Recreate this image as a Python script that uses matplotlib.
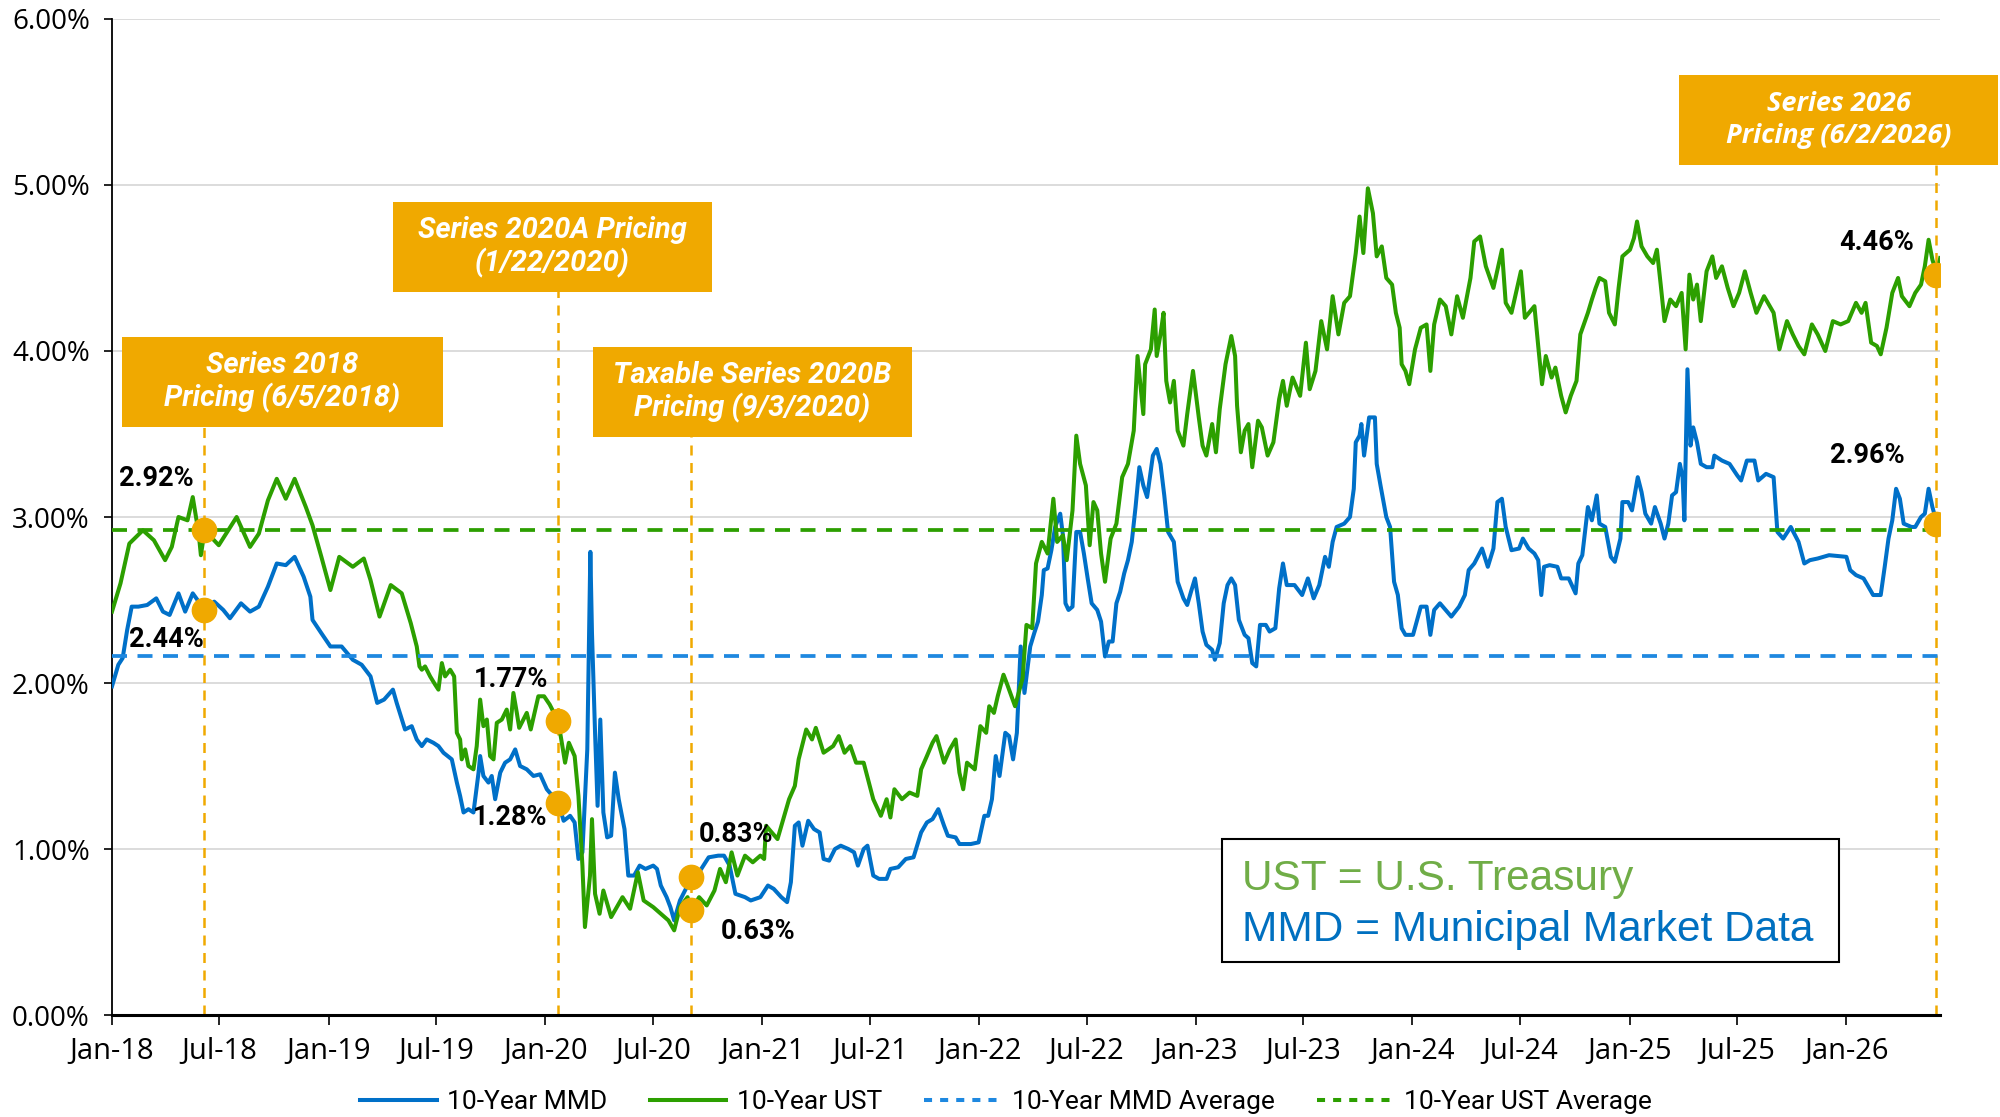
import numpy as np
import pandas as pd
import matplotlib
matplotlib.use("Agg")
import matplotlib.pyplot as plt
import matplotlib.dates as mdates
from matplotlib.patches import Rectangle
from matplotlib.lines import Line2D
from matplotlib.ticker import FuncFormatter, MultipleLocator

plt.rcParams["font.family"] = ["Roboto", "DejaVu Sans"]

# --- données (mois écoulés depuis janv. 2018, taux en %) ---
ust_months = [
    0.00, 0.47, 0.96, 1.71, 2.32, 2.94, 3.31, 3.68, 4.18, 4.47, 4.80, 4.92, 5.13, 5.91, 6.90, 7.64,
    8.13, 8.63, 9.12, 9.62, 10.11, 10.73, 11.10, 11.59, 12.09, 12.58, 13.33, 13.94, 14.31, 14.81,
    15.43, 16.04, 16.54, 16.87, 17.02, 17.15, 17.33, 17.61, 17.89, 18.07, 18.26, 18.44, 18.72,
    18.94, 19.09, 19.27, 19.36, 19.55, 19.73, 20.01, 20.19, 20.38, 20.56, 20.75, 20.93, 21.12,
    21.30, 21.58, 21.85, 22.04, 22.22, 22.41, 22.54, 22.96, 23.18, 23.60, 23.92, 24.23, 24.70,
    24.87, 25.08, 25.29, 25.61, 25.82, 26.04, 26.18, 26.46, 26.57, 26.74, 26.99, 27.20, 27.63,
    28.26, 28.68, 29.11, 29.43, 29.96, 30.38, 30.80, 31.12, 31.44, 31.86, 32.07, 32.50, 32.92,
    33.35, 33.66, 33.98, 34.30, 34.62, 35.04, 35.47, 35.89, 36.10, 36.21, 36.52, 36.84, 37.16,
    37.48, 37.80, 38.01, 38.43, 38.75, 38.96, 39.39, 39.92, 40.23, 40.55, 40.87, 41.19, 41.61,
    42.14, 42.56, 42.88, 43.09, 43.31, 43.73, 44.15, 44.58, 44.79, 45.11, 45.42, 45.64, 46.06,
    46.38, 46.70, 46.91, 47.12, 47.33, 47.76, 48.07, 48.39, 48.56, 48.82, 49.03, 49.35, 49.56,
    49.99, 50.41, 50.62, 50.94, 51.15, 51.47, 51.79, 52.11, 52.32, 52.64, 52.85, 53.17, 53.38,
    53.59, 53.91, 54.12, 54.33, 54.54, 54.75, 54.97, 55.28, 55.60, 55.92, 56.24, 56.56, 56.77,
    57.09, 57.19, 57.51, 57.72, 57.83, 58.04, 58.21, 58.36, 58.57, 58.78, 58.99, 59.31, 59.52,
    59.84, 60.16, 60.37, 60.58, 60.90, 61.11, 61.32, 61.64, 61.96, 62.17, 62.28, 62.49, 62.70,
    62.91, 63.12, 63.44, 63.65, 63.97, 64.29, 64.61, 64.82, 65.03, 65.35, 65.77, 66.09, 66.30,
    66.62, 66.94, 67.26, 67.57, 67.89, 68.21, 68.53, 68.85, 69.06, 69.27, 69.52, 69.80, 70.01,
    70.29, 70.54, 70.86, 71.07, 71.28, 71.39, 71.60, 71.81, 72.13, 72.45, 72.77, 72.98, 73.19,
    73.51, 73.83, 74.14, 74.46, 74.78, 75.20, 75.41, 75.73, 76.05, 76.47, 76.94, 77.15, 77.47,
    77.99, 78.21, 78.74, 78.95, 79.16, 79.37, 79.69, 79.90, 80.22, 80.47, 80.75, 81.07, 81.28,
    81.70, 81.92, 82.13, 82.34, 82.66, 82.87, 83.19, 83.40, 83.61, 84.03, 84.25, 84.42, 84.67,
    84.99, 85.31, 85.52, 85.73, 85.94, 86.26, 86.58, 86.89, 87.11, 87.32, 87.53, 87.74, 87.95,
    88.27, 88.59, 88.80, 89.12, 89.44, 89.76, 90.07, 90.39, 90.71, 91.03, 91.45, 91.77, 91.98,
    92.30, 92.72, 93.04, 93.36, 93.68, 94.10, 94.42, 94.84, 95.26, 95.69, 96.11, 96.54, 96.85,
    97.07, 97.38, 97.70, 97.91, 98.23, 98.55, 98.87, 99.08, 99.50, 99.82, 100.14, 100.35, 100.56,
    100.77, 101.03, 101.20,
]
ust_yields = [
    2.43, 2.60, 2.84, 2.92, 2.86, 2.74, 2.82, 3.00, 2.98, 3.12, 2.90, 2.77, 2.92, 2.83, 3.00, 2.82,
    2.90, 3.10, 3.23, 3.11, 3.23, 3.06, 2.95, 2.76, 2.56, 2.76, 2.70, 2.75, 2.62, 2.40,
    2.59, 2.54, 2.36, 2.22, 2.10, 2.08, 2.10, 2.04, 1.99, 1.96, 2.12, 2.04, 2.08,
    2.04, 1.70, 1.66, 1.54, 1.60, 1.50, 1.48, 1.62, 1.90, 1.74, 1.78, 1.56, 1.54,
    1.76, 1.78, 1.84, 1.72, 1.94, 1.82, 1.73, 1.82, 1.72, 1.92, 1.92, 1.87, 1.77,
    1.66, 1.52, 1.64, 1.56, 1.32, 0.90, 0.53, 0.84, 1.18, 0.73, 0.61, 0.75, 0.59,
    0.71, 0.64, 0.86, 0.69, 0.65, 0.61, 0.57, 0.51, 0.65, 0.71, 0.63, 0.71, 0.66,
    0.75, 0.88, 0.80, 0.98, 0.84, 0.96, 0.92, 0.96, 0.94, 1.14, 1.10, 1.06, 1.18,
    1.30, 1.38, 1.54, 1.72, 1.66, 1.73, 1.58, 1.62, 1.68, 1.58, 1.62, 1.52, 1.52,
    1.30, 1.20, 1.30, 1.19, 1.36, 1.30, 1.34, 1.32, 1.48, 1.56, 1.64, 1.68, 1.52,
    1.60, 1.66, 1.46, 1.36, 1.52, 1.48, 1.74, 1.70, 1.86, 1.82, 1.92, 2.05, 1.99,
    1.86, 2.03, 2.35, 2.33, 2.72, 2.85, 2.78, 3.11, 2.85, 2.89, 2.74, 3.04, 3.49,
    3.32, 3.19, 2.83, 3.09, 3.04, 2.78, 2.61, 2.87, 2.96, 3.24, 3.32, 3.52, 3.97,
    3.62, 3.92, 4.01, 4.25, 3.97, 4.10, 4.23, 3.82, 3.69, 3.82, 3.52, 3.43, 3.62,
    3.88, 3.60, 3.43, 3.37, 3.56, 3.39, 3.65, 3.92, 4.09, 3.97, 3.67, 3.39, 3.52,
    3.56, 3.30, 3.58, 3.54, 3.37, 3.45, 3.71, 3.82, 3.67, 3.84, 3.73, 4.05, 3.77,
    3.88, 4.18, 4.01, 4.33, 4.10, 4.29, 4.33, 4.59, 4.81, 4.59, 4.98, 4.83, 4.57,
    4.63, 4.44, 4.40, 4.23, 4.14, 3.92, 3.88, 3.80, 4.01, 4.14, 4.16, 3.88, 4.16,
    4.31, 4.27, 4.10, 4.33, 4.20, 4.44, 4.66, 4.69, 4.51, 4.38, 4.61, 4.29, 4.23,
    4.48, 4.20, 4.27, 4.03, 3.80, 3.97, 3.84, 3.90, 3.73, 3.63, 3.73, 3.82, 4.10,
    4.23, 4.31, 4.38, 4.44, 4.42, 4.23, 4.16, 4.38, 4.57, 4.61, 4.68, 4.78, 4.63,
    4.57, 4.53, 4.61, 4.40, 4.18, 4.31, 4.27, 4.35, 4.01, 4.46, 4.31, 4.40, 4.18,
    4.48, 4.57, 4.44, 4.51, 4.38, 4.27, 4.35, 4.48, 4.35, 4.23, 4.33, 4.27, 4.23,
    4.01, 4.18, 4.10, 4.03, 3.98, 4.16, 4.10, 4.00, 4.18, 4.16, 4.18, 4.29, 4.23,
    4.29, 4.05, 4.03, 3.98, 4.14, 4.35, 4.44, 4.33, 4.27, 4.35, 4.40, 4.51, 4.67,
    4.55, 4.46, 4.56,
]

mmd_months = [
    0.00, 0.35, 0.59, 0.84, 1.09, 1.46, 1.95, 2.45, 2.82, 3.19, 3.68, 4.05, 4.47, 5.13, 5.66, 6.16,
    6.53, 7.14, 7.64, 8.13, 8.63, 9.12, 9.62, 10.11, 10.61, 10.98, 11.10, 11.59, 12.09, 12.71,
    13.33, 13.82, 14.31, 14.68, 15.06, 15.55, 15.76, 16.22, 16.59, 16.87, 17.15, 17.42, 17.79,
    18.07, 18.35, 18.81, 19.09, 19.27, 19.46, 19.73, 20.01, 20.29, 20.38, 20.56, 20.84, 21.02,
    21.21, 21.49, 21.76, 22.04, 22.32, 22.59, 22.96, 23.33, 23.70, 24.07, 24.70, 25.00, 25.36,
    25.61, 25.82, 26.04, 26.31, 26.48, 26.57, 26.74, 26.88, 27.03, 27.20, 27.41, 27.63, 27.84,
    28.05, 28.37, 28.58, 28.90, 29.21, 29.53, 29.96, 30.17, 30.38, 30.70, 30.91, 31.12, 31.44,
    31.86, 32.07, 32.50, 33.03, 33.56, 33.88, 34.19, 34.51, 35.04, 35.36, 35.89, 36.31, 36.63,
    37.05, 37.37, 37.58, 37.80, 38.01, 38.22, 38.54, 38.86, 39.17, 39.39, 39.70, 40.02, 40.34,
    40.76, 41.08, 41.29, 41.61, 41.82, 42.14, 42.46, 42.88, 43.09, 43.52, 43.94, 44.37, 44.79,
    45.11, 45.42, 45.74, 46.06, 46.27, 46.70, 46.91, 47.54, 47.97, 48.29, 48.50, 48.71, 48.92,
    49.13, 49.45, 49.66, 49.88, 50.09, 50.30, 50.51, 50.83, 51.05, 51.26, 51.47, 51.58, 51.79,
    52.00, 52.21, 52.49, 52.64, 52.78, 52.95, 53.17, 53.38, 53.59, 53.80, 54.01, 54.23, 54.54,
    54.75, 54.97, 55.18, 55.39, 55.60, 55.81, 56.03, 56.24, 56.45, 56.66, 56.87, 57.09, 57.30,
    57.62, 57.83, 58.04, 58.25, 58.46, 58.78, 58.99, 59.31, 59.52, 59.73, 59.95, 60.16, 60.37,
    60.58, 60.90, 61.05, 61.32, 61.54, 61.75, 61.96, 62.17, 62.38, 62.70, 62.91, 63.12, 63.34,
    63.55, 63.87, 64.08, 64.40, 64.61, 64.82, 65.03, 65.46, 65.88, 66.20, 66.52, 66.83, 67.15,
    67.36, 67.57, 67.79, 68.21, 68.53, 68.74, 68.85, 69.06, 69.16, 69.31, 69.59, 69.91, 70.01,
    70.22, 70.54, 70.75, 70.97, 71.18, 71.39, 71.60, 72.02, 72.45, 72.77, 72.98, 73.19, 73.51,
    74.14, 74.57, 74.89, 75.10, 75.41, 75.84, 76.16, 76.47, 76.69, 76.94, 77.15, 77.47, 77.89,
    78.10, 78.42, 78.74, 78.95, 79.12, 79.27, 79.58, 80.01, 80.22, 80.64, 81.02, 81.17, 81.39,
    81.70, 81.92, 82.19, 82.34, 82.66, 82.97, 83.19, 83.50, 83.61, 83.93, 84.14, 84.46, 84.67,
    84.88, 85.20, 85.41, 85.73, 85.94, 86.15, 86.36, 86.58, 86.79, 86.94, 87.04, 87.21, 87.38,
    87.53, 87.74, 87.95, 88.27, 88.59, 88.70, 89.12, 89.54, 89.97, 90.18, 90.50, 90.92, 91.13,
    91.56, 91.98, 92.19, 92.51, 92.93, 93.36, 93.68, 93.99, 94.42, 95.05, 96.01, 96.22, 96.54,
    96.96, 97.28, 97.49, 97.91, 98.13, 98.34, 98.55, 98.76, 98.97, 99.18, 99.61, 99.82, 100.14,
    100.35, 100.56, 100.77, 101.03, 101.20,
]
mmd_yields = [
    1.98, 2.11, 2.15, 2.32, 2.46, 2.46, 2.47, 2.51, 2.43, 2.41, 2.54, 2.43, 2.54, 2.44, 2.49, 2.44,
    2.39, 2.48, 2.43, 2.46, 2.58, 2.72, 2.71, 2.76, 2.64, 2.52, 2.38, 2.30, 2.22, 2.22,
    2.14, 2.11, 2.04, 1.88, 1.90, 1.96, 1.88, 1.72, 1.74, 1.66, 1.62, 1.66, 1.64,
    1.62, 1.58, 1.54, 1.40, 1.32, 1.22, 1.24, 1.22, 1.46, 1.56, 1.44, 1.40, 1.44,
    1.30, 1.46, 1.52, 1.54, 1.60, 1.50, 1.48, 1.44, 1.45, 1.36, 1.28, 1.17, 1.20,
    1.16, 0.94, 0.98, 1.60, 2.79, 2.30, 1.70, 1.26, 1.78, 1.22, 1.07, 1.08, 1.46,
    1.30, 1.12, 0.84, 0.84, 0.90, 0.88, 0.90, 0.88, 0.78, 0.71, 0.65, 0.57, 0.69,
    0.78, 0.83, 0.86, 0.95, 0.96, 0.96, 0.90, 0.73, 0.71, 0.69, 0.71, 0.78, 0.76,
    0.71, 0.68, 0.80, 1.14, 1.16, 1.02, 1.17, 1.12, 1.10, 0.94, 0.93, 1.00, 1.02,
    1.00, 0.98, 0.90, 1.00, 1.02, 0.84, 0.82, 0.82, 0.88, 0.89, 0.94, 0.95, 1.10,
    1.16, 1.18, 1.24, 1.14, 1.08, 1.07, 1.03, 1.03, 1.04, 1.20, 1.20, 1.30, 1.56,
    1.44, 1.70, 1.68, 1.54, 1.70, 2.22, 1.94, 2.22, 2.30, 2.37, 2.53, 2.68, 2.69,
    2.80, 2.94, 3.02, 2.89, 2.48, 2.44, 2.46, 2.91, 2.91, 2.78, 2.63, 2.48, 2.44,
    2.37, 2.16, 2.25, 2.25, 2.48, 2.55, 2.66, 2.74, 2.85, 3.06, 3.30, 3.19, 3.12,
    3.37, 3.41, 3.32, 3.13, 2.91, 2.85, 2.61, 2.51, 2.47, 2.55, 2.63, 2.48, 2.31,
    2.23, 2.20, 2.14, 2.24, 2.48, 2.59, 2.63, 2.59, 2.38, 2.29, 2.27, 2.12, 2.10,
    2.35, 2.35, 2.31, 2.33, 2.57, 2.72, 2.59, 2.59, 2.53, 2.63, 2.51, 2.59, 2.76,
    2.70, 2.85, 2.94, 2.96, 3.00, 3.17, 3.45, 3.49, 3.56, 3.37, 3.60, 3.60, 3.32,
    3.19, 3.00, 2.94, 2.61, 2.53, 2.33, 2.29, 2.29, 2.46, 2.46, 2.29, 2.44, 2.48,
    2.40, 2.46, 2.53, 2.68, 2.72, 2.81, 2.70, 2.81, 3.09, 3.11, 2.94, 2.80, 2.81,
    2.87, 2.81, 2.78, 2.74, 2.53, 2.70, 2.71, 2.70, 2.63, 2.63, 2.54, 2.72, 2.77,
    3.06, 2.98, 3.13, 2.96, 2.94, 2.76, 2.73, 2.87, 3.09, 3.09, 3.04, 3.24, 3.15,
    3.02, 2.96, 3.06, 2.96, 2.87, 2.96, 3.13, 3.15, 3.32, 3.24, 2.98, 3.89, 3.43,
    3.54, 3.45, 3.32, 3.30, 3.30, 3.37, 3.34, 3.32, 3.25, 3.22, 3.34, 3.34, 3.22,
    3.26, 3.24, 2.91, 2.87, 2.94, 2.85, 2.72, 2.74, 2.75, 2.77, 2.76, 2.68, 2.65,
    2.63, 2.57, 2.53, 2.53, 2.70, 2.87, 2.98, 3.17, 3.11, 2.96, 2.94, 2.94, 3.00,
    3.02, 3.17, 3.06, 2.96, 2.95,
]

ust_avg = 2.92
mmd_avg = 2.16

event_dates = ["2018-06-05", "2020-01-22", "2020-09-03", "2026-06-02"]
event_titles = [
    "Series 2018\nPricing (6/5/2018)",
    "Series 2020A Pricing\n(1/22/2020)",
    "Taxable Series 2020B\nPricing (9/3/2020)",
    "Series 2026\nPricing (6/2/2026)",
]
event_ust = [2.92, 1.77, 0.63, 4.46]
event_mmd = [2.44, 1.28, 0.83, 2.96]

MMD_BLUE = "#0070C8"
UST_GREEN = "#2C9F00"
MMD_AVG_BLUE = "#1E88E0"
ORANGE = "#F0A900"

START = pd.Timestamp("2018-01-01")


def to_dates(months):
    return START + pd.to_timedelta(np.asarray(months) * 30.4375, unit="D")


W, H = 2000, 1117
fig = plt.figure(figsize=(W / 100, H / 100), dpi=100)
ax = fig.add_axes([0.056, 0.0913, 0.914, 0.8917])

x_ust = to_dates(ust_months)
x_mmd = to_dates(mmd_months)
ev = pd.to_datetime(event_dates)

ax.plot(x_mmd, mmd_yields, color=MMD_BLUE, lw=2.9, zorder=3)
ax.plot(x_ust, ust_yields, color=UST_GREEN, lw=2.9, zorder=3)

x0, x1 = pd.Timestamp("2018-01-01"), pd.Timestamp("2026-06-08")
ax.plot([x0, x1], [mmd_avg, mmd_avg], color=MMD_AVG_BLUE, lw=2.7, ls=(0, (4, 2.8)), zorder=4)
ax.plot([x0, x1], [ust_avg, ust_avg], color=UST_GREEN, lw=2.7, ls=(0, (4, 2.8)), zorder=4)

# lignes verticales des émissions (le haut touche le bas de chaque encadré)
line_tops = [3.54, 4.36, 3.48, 5.12]
ax.vlines(ev, 0, line_tops, colors=ORANGE, lw=1.8, linestyles=(0, (4, 3)), zorder=2)

ax.plot(ev, event_ust, "o", color=ORANGE, ms=17.5, zorder=6)
ax.plot(ev, event_mmd, "o", color=ORANGE, ms=17.5, zorder=6)

ust_offsets = [(-34, 37), (-34, 30), (48, -15), (-43, 23)]
mmd_offsets = [(-27, -21), (-34, -11), (32, 31), (-50, 49)]
for d, v, off in zip(ev, event_ust, ust_offsets):
    ax.annotate(f"{v:.2f}%", (d, v), xytext=off, textcoords="offset points",
                ha="center", va="center", fontsize=19.5, fontweight="bold", zorder=7)
for d, v, off in zip(ev, event_mmd, mmd_offsets):
    ax.annotate(f"{v:.2f}%", (d, v), xytext=off, textcoords="offset points",
                ha="center", va="center", fontsize=19.5, fontweight="bold", zorder=7)

# axes
ax.set_xlim(x0, x1)
ax.set_ylim(0, 6)
ax.yaxis.set_major_locator(MultipleLocator(1))
ax.yaxis.set_major_formatter(FuncFormatter(lambda v, p: f"{v:.2f}%"))
ax.xaxis.set_major_locator(mdates.MonthLocator(bymonth=[1, 7]))
ax.xaxis.set_major_formatter(mdates.DateFormatter("%b-%y"))
ax.grid(axis="y", color="#D9D9D9", lw=1.3, zorder=0)
ax.set_axisbelow(True)
for s in ("top", "right"):
    ax.spines[s].set_visible(False)
ax.spines["left"].set_linewidth(1.3)
ax.spines["bottom"].set_linewidth(2.2)
ax.tick_params(axis="y", labelsize=20, length=6, width=1.2, pad=10,
               labelfontfamily="Open Sans")
ax.tick_params(axis="x", labelsize=21, length=7, width=1.2, pad=9,
               labelfontfamily="Open Sans")


def fig_rect(px0, py0, px1, py1, **kw):
    r = Rectangle((px0 / W, 1 - py1 / H), (px1 - px0) / W, (py1 - py0) / H,
                  transform=fig.transFigure, **kw)
    fig.patches.append(r)
    return r


# encadrés orange
boxes = [(122, 337, 443, 427), (393, 202, 712, 292), (593, 347, 912, 437), (1679, 75, 1998, 165)]
box_fonts = ["Roboto", "Roboto", "Roboto", "Open Sans"]
for (bx0, by0, bx1, by1), title, fam in zip(boxes, event_titles, box_fonts):
    fig_rect(bx0, by0, bx1, by1, facecolor=ORANGE, edgecolor="none", zorder=5)
    fig.text((bx0 + bx1) / 2 / W, 1 - (by0 + by1) / 2 / H, title, ha="center", va="center",
             color="white", fontsize=21 if fam == "Roboto" else 19.5, fontweight="bold",
             style="italic", family=[fam, "DejaVu Sans"],
             linespacing=1.15 if fam == "Roboto" else 1.3, zorder=6)

# encadré des définitions
fig_rect(1222, 839, 1839, 962, facecolor="white", edgecolor="black", lw=1.5, zorder=5)
fig.text(1242 / W, 1 - 879 / H, "UST = U.S. Treasury", color="#70AD47", fontsize=30.5,
         va="center", family=["Liberation Sans", "DejaVu Sans"], zorder=6)
fig.text(1242 / W, 1 - 930 / H, "MMD = Municipal Market Data", color="#0070C0", fontsize=30.5,
         va="center", family=["Liberation Sans", "DejaVu Sans"], zorder=6)

handles = [
    Line2D([], [], color=MMD_BLUE, lw=2.9),
    Line2D([], [], color=UST_GREEN, lw=2.9),
    Line2D([], [], color=MMD_AVG_BLUE, lw=2.9, ls=(0, (2, 2))),
    Line2D([], [], color=UST_GREEN, lw=2.9, ls=(0, (2, 2))),
]
labels = ["10-Year MMD", "10-Year UST", "10-Year MMD Average", "10-Year UST Average"]
fig.legend(handles, labels, loc="lower center", bbox_to_anchor=(0.503, -0.019), ncol=4,
           frameon=False, fontsize=19, handlelength=2.9, columnspacing=1.6, handletextpad=0.4)

fig.savefig("out.png", dpi=100)
